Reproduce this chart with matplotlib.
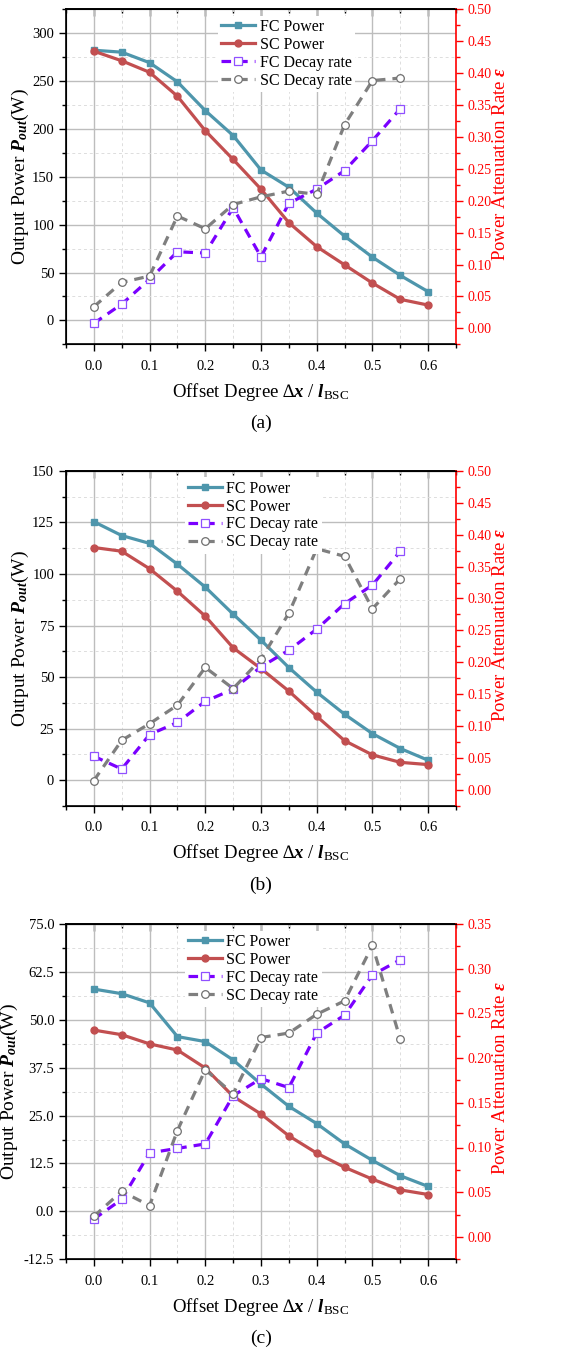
import numpy as np
import matplotlib.pyplot as plt
from matplotlib.ticker import MultipleLocator, FormatStrFormatter

plt.rcParams["font.family"] = ["Liberation Serif", "DejaVu Serif"]
plt.rcParams["mathtext.fontset"] = "custom"
plt.rcParams["mathtext.rm"] = "Liberation Serif"
plt.rcParams["mathtext.it"] = "Liberation Serif:italic"
plt.rcParams["mathtext.bf"] = "Liberation Serif:bold:italic"
plt.rcParams["mathtext.fallback"] = "stix"

offset = [0.0, 0.05, 0.1, 0.15, 0.2, 0.25, 0.3, 0.35, 0.4, 0.45, 0.5, 0.55, 0.6]

# (a)
fc_power_a = [282, 280, 269, 249, 219, 193, 157, 139, 112, 88, 66, 47, 30]
sc_power_a = [281, 271, 259, 234, 198, 168, 137, 102, 77, 58, 39, 22, 16]
fc_decay_a = [0.008, 0.038, 0.077, 0.120, 0.118, 0.189, 0.112, 0.196, 0.218, 0.247, 0.294, 0.344]
sc_decay_a = [0.034, 0.072, 0.082, 0.176, 0.156, 0.194, 0.206, 0.215, 0.210, 0.319, 0.388, 0.392]

# (b)
fc_power_b = [125.3, 118.6, 114.8, 104.7, 93.6, 80.5, 67.9, 54.6, 42.7, 32.0, 22.6, 15.4, 9.7]
sc_power_b = [112.8, 111.0, 102.5, 91.6, 79.5, 64.2, 54.1, 43.2, 31.0, 19.2, 12.3, 8.7, 7.6]
fc_decay_b = [0.053, 0.033, 0.087, 0.106, 0.139, 0.158, 0.193, 0.219, 0.252, 0.292, 0.321, 0.374]
sc_decay_b = [0.015, 0.078, 0.104, 0.133, 0.192, 0.159, 0.205, 0.277, 0.378, 0.366, 0.284, 0.331]

# (c)
fc_power_c = [58.0, 56.8, 54.4, 45.6, 44.3, 39.5, 33.2, 27.4, 22.9, 17.6, 13.3, 9.3, 6.5]
sc_power_c = [47.3, 46.1, 43.7, 42.1, 37.4, 30.0, 25.4, 19.7, 15.2, 11.5, 8.4, 5.6, 4.4]
fc_decay_c = [0.020, 0.042, 0.094, 0.099, 0.104, 0.158, 0.177, 0.167, 0.228, 0.248, 0.293, 0.310]
sc_decay_c = [0.023, 0.051, 0.035, 0.119, 0.187, 0.160, 0.223, 0.228, 0.249, 0.264, 0.326, 0.221]

panels = [
    ("(a)", fc_power_a, sc_power_a, fc_decay_a, sc_decay_a, (-25, 325), 50, "%d", (-0.025, 0.50)),
    ("(b)", fc_power_b, sc_power_b, fc_decay_b, sc_decay_b, (-12.5, 150), 25, "%d", (-0.025, 0.50)),
    ("(c)", fc_power_c, sc_power_c, fc_decay_c, sc_decay_c, (-12.5, 75), 12.5, "%.1f", (-0.025, 0.35)),
]

FC_COL = "#4E96AC"
SC_COL = "#C24F50"
FCD_COL = "#7A00FF"
SCD_COL = "#7F7F7F"
RED = "#FF0000"

fig = plt.figure(figsize=(5.79, 13.5), dpi=100)
tops = [0.9933, 0.6513, 0.3156]
H = 0.2484
cap_y = [1 - 423 / 1350, 1 - 885 / 1350, 1 - 1338 / 1350]
ylab_x = [-0.117, -0.117, -0.145]
xlab_y = [-0.143, -0.140, -0.142]
leg_x = [0.39, 0.305, 0.305]

for i, ((cap, fcp, scp, fcd, scd, ylim, ystep, yfmt, rlim), top) in enumerate(zip(panels, tops)):
    ax = fig.add_axes([0.114, top - H, 0.6736, H])
    ax2 = ax.twinx()
    x = np.array(offset)

    l1, = ax.plot(x, fcp, "-s", color=FC_COL, lw=2.3, ms=5)
    l2, = ax.plot(x, scp, "-o", color=SC_COL, lw=2.3, ms=5)
    l3, = ax2.plot(x[:-1], fcd, "--s", color=FCD_COL, lw=2.3, ms=5.5,
                   mfc="white", mec="#9050FF", mew=0.9, dashes=(3, 2.2))
    l4, = ax2.plot(x[:-1], scd, "--o", color=SCD_COL, lw=2.3, ms=5.5,
                   mfc="white", mec="#707070", mew=0.9, dashes=(3, 2.2))

    ax.set_xlim(-0.05, 0.65)
    ax.set_ylim(*ylim)
    ax2.set_ylim(*rlim)
    ax.xaxis.set_major_locator(MultipleLocator(0.1))
    ax.xaxis.set_minor_locator(MultipleLocator(0.05))
    ax.xaxis.set_major_formatter(FormatStrFormatter("%.1f"))
    ax.yaxis.set_major_locator(MultipleLocator(ystep))
    ax.yaxis.set_minor_locator(MultipleLocator(ystep / 2))
    ax.yaxis.set_major_formatter(FormatStrFormatter(yfmt))
    ax2.yaxis.set_major_locator(MultipleLocator(0.05))
    ax2.yaxis.set_minor_locator(MultipleLocator(0.025))
    ax2.yaxis.set_major_formatter(FormatStrFormatter("%.2f"))

    ax.grid(which="major", color="#BDBDBD", lw=1.0, ls="-")
    ax.grid(which="minor", color="#DDDDDD", lw=0.7, ls=(0, (3, 3)))
    ax.set_axisbelow(True)

    ax.tick_params(axis="both", which="major", direction="out", length=5, width=1, labelsize=10.5)
    ax.tick_params(axis="both", which="minor", direction="out", length=3, width=1)
    ax.tick_params(axis="x", which="major", pad=6)
    ax2.tick_params(axis="y", which="major", direction="out", length=5, width=1,
                    colors=RED, labelsize=10)
    ax2.tick_params(axis="y", which="minor", direction="out", length=3, width=1, colors=RED)
    ax2.spines["right"].set_color(RED)
    ax2.spines["right"].set_linewidth(1.2)
    for s in ["left", "bottom", "top"]:
        ax.spines[s].set_linewidth(1.2)
    ax.spines["right"].set_visible(False)
    # top ticks pointing inward
    sec = ax.secondary_xaxis("top")
    sec.xaxis.set_major_locator(MultipleLocator(0.1))
    sec.xaxis.set_minor_locator(MultipleLocator(0.05))
    sec.tick_params(which="major", direction="in", length=5, width=1, labeltop=False)
    sec.tick_params(which="minor", direction="in", length=3, width=1)
    sec.spines["top"].set_linewidth(1.2)

    ax.set_xlabel("Offset Degree \u2206" + r"$\mathbf{x}$ / $\mathbf{l}_{\mathrm{BSC}}$", fontsize=13.5)
    ax.xaxis.set_label_coords(0.5, xlab_y[i])
    ax.xaxis.label.set_va("center")
    ax.set_ylabel(r"Output Power $\mathbf{P}_{\mathbf{out}}$(W)", fontsize=14)
    ax.yaxis.set_label_coords(ylab_x[i], 0.5)
    ax.yaxis.label.set_va("center")
    ax2.set_ylabel(r"Power Attenuation Rate $\mathbf{ε}$", fontsize=13.5, color=RED)
    ax2.yaxis.set_label_coords(1.115, 0.54)
    ax2.yaxis.label.set_va("center")

    ax2.legend([l1, l2, l3, l4], ["FC Power", "SC Power", "FC Decay rate", "SC Decay rate"],
               loc="upper left", bbox_to_anchor=(leg_x[i], 0.98), fontsize=11.5,
               frameon=True, framealpha=1, edgecolor="none", fancybox=False,
               handlelength=2.1, handletextpad=0.3, labelspacing=0.12,
               borderpad=0.2, borderaxespad=0)
    fig.text(0.114 + 0.6736 / 2, cap_y[i], cap, ha="center", va="center", fontsize=14)

fig.savefig("out.png", dpi=100)
